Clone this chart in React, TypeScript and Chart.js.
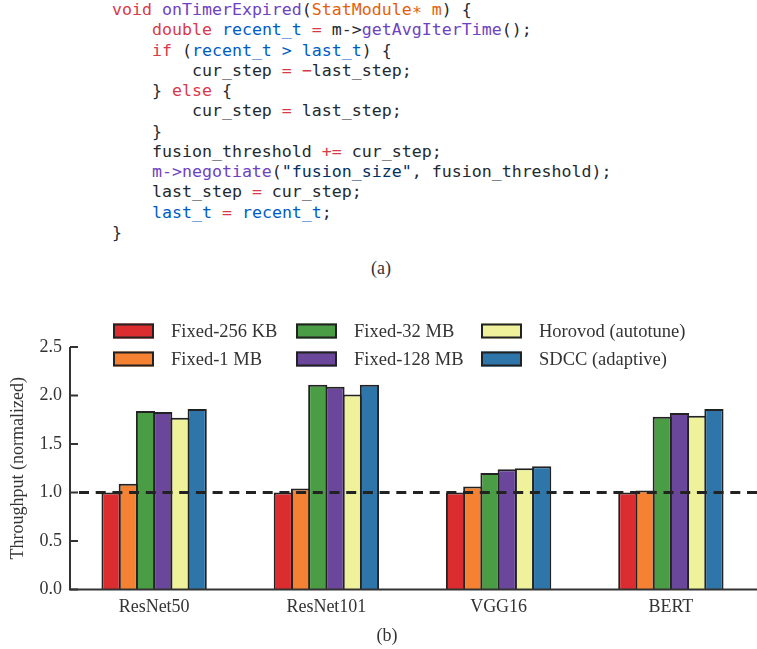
import React, { useEffect, useRef } from "react";
import { Chart, registerables } from "chart.js";

Chart.register(...registerables);

// ---------- data ----------
const categories = ["ResNet50", "ResNet101", "VGG16", "BERT"];
const seriesNames = [
  "Fixed-256 KB",
  "Fixed-1 MB",
  "Fixed-32 MB",
  "Fixed-128 MB",
  "Horovod (autotune)",
  "SDCC (adaptive)",
];
const fixed256KB = [1.0, 1.0, 1.0, 1.0];
const fixed1MB = [1.09, 1.04, 1.06, 1.02];
const fixed32MB = [1.84, 2.11, 1.2, 1.78];
const fixed128MB = [1.83, 2.09, 1.24, 1.82];
const horovodAutotune = [1.77, 2.01, 1.25, 1.79];
const sdccAdaptive = [1.86, 2.11, 1.27, 1.86];
const seriesColors = ["#db2c30", "#f58232", "#4a9d45", "#6a479a", "#eff19b", "#2e75a9"];
const yTickValues = [0, 0.5, 1.0, 1.5, 2.0, 2.5];
const baselineValue = 1.0;
const yAxisTitle = "Throughput (normalized)";

// ---------- layout constants ----------
const SERIF = "'Liberation Serif', 'Times New Roman', serif";
const CANVAS_TOP = 290;
const CANVAS_W = 757;
const CANVAS_H = 350;
const AXIS_X = 70;
const LEGEND_COLS = [113, 296, 481];
const LEGEND_ROWS = [41, 69];

const decorPlugin = {
  id: "decor",
  afterDatasetsDraw(chart: any) {
    const { ctx, chartArea, scales } = chart;
    const y = scales.y;
    ctx.save();
    // baseline dashed
    const yb = y.getPixelForValue(baselineValue);
    ctx.strokeStyle = "#222";
    ctx.lineWidth = 3;
    ctx.setLineDash([10, 6.7]);
    ctx.beginPath();
    ctx.moveTo(AXIS_X + 9, yb);
    ctx.lineTo(chartArea.right, yb);
    ctx.stroke();
    ctx.setLineDash([]);
    // spines
    const yTop = y.getPixelForValue(yTickValues[yTickValues.length - 1]);
    const y0 = y.getPixelForValue(0);
    ctx.strokeStyle = "#333";
    ctx.lineWidth = 2;
    ctx.beginPath();
    ctx.moveTo(AXIS_X, yTop);
    ctx.lineTo(AXIS_X, y0);
    ctx.lineTo(chartArea.right, y0);
    ctx.stroke();
    // inward ticks
    ctx.beginPath();
    yTickValues.forEach((v) => {
      const py = y.getPixelForValue(v);
      ctx.moveTo(AXIS_X, py);
      ctx.lineTo(AXIS_X + 8, py);
    });
    ctx.stroke();
    ctx.restore();
  },
  afterDraw(chart: any) {
    const { ctx } = chart;
    ctx.save();
    chart.data.datasets.forEach((ds: any, i: number) => {
      const col = Math.floor(i / 2);
      const row = i % 2;
      const bx = LEGEND_COLS[col];
      const cy = LEGEND_ROWS[row];
      ctx.fillStyle = ds.backgroundColor;
      ctx.fillRect(bx, cy - 7.5, 41, 15);
      ctx.strokeStyle = "#222";
      ctx.lineWidth = 2;
      ctx.strokeRect(bx + 1, cy - 6.5, 39, 13);
      ctx.fillStyle = "#333";
      ctx.font = `18.5px ${SERIF}`;
      ctx.textAlign = "left";
      ctx.textBaseline = "middle";
      ctx.fillText(ds.label, bx + 58, cy + 1);
    });
    ctx.restore();
  },
};

function ChartView() {
  const ref = useRef<HTMLCanvasElement | null>(null);
  useEffect(() => {
    if (!ref.current) return;
    const series = [fixed256KB, fixed1MB, fixed32MB, fixed128MB, horovodAutotune, sdccAdaptive];
    const chart = new Chart(ref.current, {
      type: "bar",
      data: {
        labels: categories,
        datasets: series.map((d, i) => ({
          label: seriesNames[i],
          data: d,
          backgroundColor: seriesColors[i],
          borderColor: "#222",
          borderWidth: 2,
          categoryPercentage: 0.6,
          barPercentage: 1.116,
        })),
      },
      options: {
        responsive: false,
        animation: false,
        layout: { padding: { top: 57, right: 0, bottom: 15, left: 0 } },
        plugins: { legend: { display: false }, tooltip: { enabled: false } },
        scales: {
          x: {
            grid: { display: false, drawTicks: false },
            border: { display: false },
            ticks: { color: "#333", font: { family: SERIF, size: 18 }, padding: 7 },
          },
          y: {
            min: 0,
            max: 2.5,
            afterFit: (scale: any) => {
              scale.width = 68;
            },
            grid: { display: false, drawTicks: false },
            border: { display: false },
            afterBuildTicks: (scale: any) => {
              scale.ticks = yTickValues.map((v) => ({ value: v }));
            },
            ticks: {
              color: "#333",
              font: { family: SERIF, size: 18 },
              padding: 6,
              callback: (v: any) => Number(v).toFixed(1),
            },
            title: {
              display: true,
              text: yAxisTitle,
              color: "#333",
              font: { family: SERIF, size: 18 },
              padding: { top: 7, bottom: 0 },
            },
          },
        },
      },
      plugins: [decorPlugin],
    });
    return () => chart.destroy();
  }, []);
  return <canvas ref={ref} width={CANVAS_W} height={CANVAS_H} style={{ display: "block" }} />;
}

const KW = "#d73a49";
const FN = "#6f42c1";
const VAR = "#005cc5";
const PARAM = "#e36209";
const STR = "#032f62";

function S({ c, children }: { c?: string; children: any }) {
  return <span style={{ color: c || "#24292e" }}>{children}</span>;
}

function CodeBlock() {
  return (
    <div
      style={{
        position: "absolute",
        left: 112,
        top: 0,
        fontFamily: "'DejaVu Sans Mono', monospace",
        fontSize: "16.6px",
        lineHeight: "20.27px",
        whiteSpace: "pre",
        color: "#24292e",
      }}
    >
      <div><S c={KW}>void</S> <S c={FN}>onTimerExpired</S>(<S c={PARAM}>StatModule∗ m</S>) {"{"}</div>
      <div>{"    "}<S c={KW}>double</S> <S c={VAR}>recent_t</S> <S c={KW}>=</S> m-&gt;<S c={FN}>getAvgIterTime</S>();</div>
      <div>{"    "}<S c={KW}>if</S> (<S c={VAR}>recent_t &gt; last_t</S>) {"{"}</div>
      <div>{"        "}cur_step <S c={KW}>=</S> <S c={KW}>−</S>last_step;</div>
      <div>{"    "}{"}"} <S c={KW}>else</S> {"{"}</div>
      <div>{"        "}cur_step <S c={KW}>=</S> last_step;</div>
      <div>{"    "}{"}"}</div>
      <div>{"    "}fusion_threshold <S c={KW}>+=</S> cur_step;</div>
      <div>{"    "}<S c={FN}>m-&gt;negotiate</S>(<S c={STR}>"fusion_size"</S>, fusion_threshold);</div>
      <div>{"    "}last_step <S c={KW}>=</S> cur_step;</div>
      <div>{"    "}<S c={VAR}>last_t</S> <S c={KW}>=</S> <S c={VAR}>recent_t</S>;</div>
      <div>{"}"}</div>
    </div>
  );
}

export default function App() {
  const caption: React.CSSProperties = {
    position: "absolute",
    fontFamily: SERIF,
    fontSize: "18px",
    lineHeight: "20px",
    color: "#333",
    transform: "translateX(-50%)",
    whiteSpace: "nowrap",
  };
  return (
    <div style={{ position: "absolute", left: 0, top: 0, width: 757, height: 649, background: "#fff", overflow: "hidden" }}>
      <CodeBlock />
      <div style={{ ...caption, left: 381, top: 258 }}>(a)</div>
      <div style={{ position: "absolute", left: 0, top: CANVAS_TOP }}>
        <ChartView />
      </div>
      <div style={{ ...caption, left: 387, top: 625 }}>(b)</div>
    </div>
  );
}
